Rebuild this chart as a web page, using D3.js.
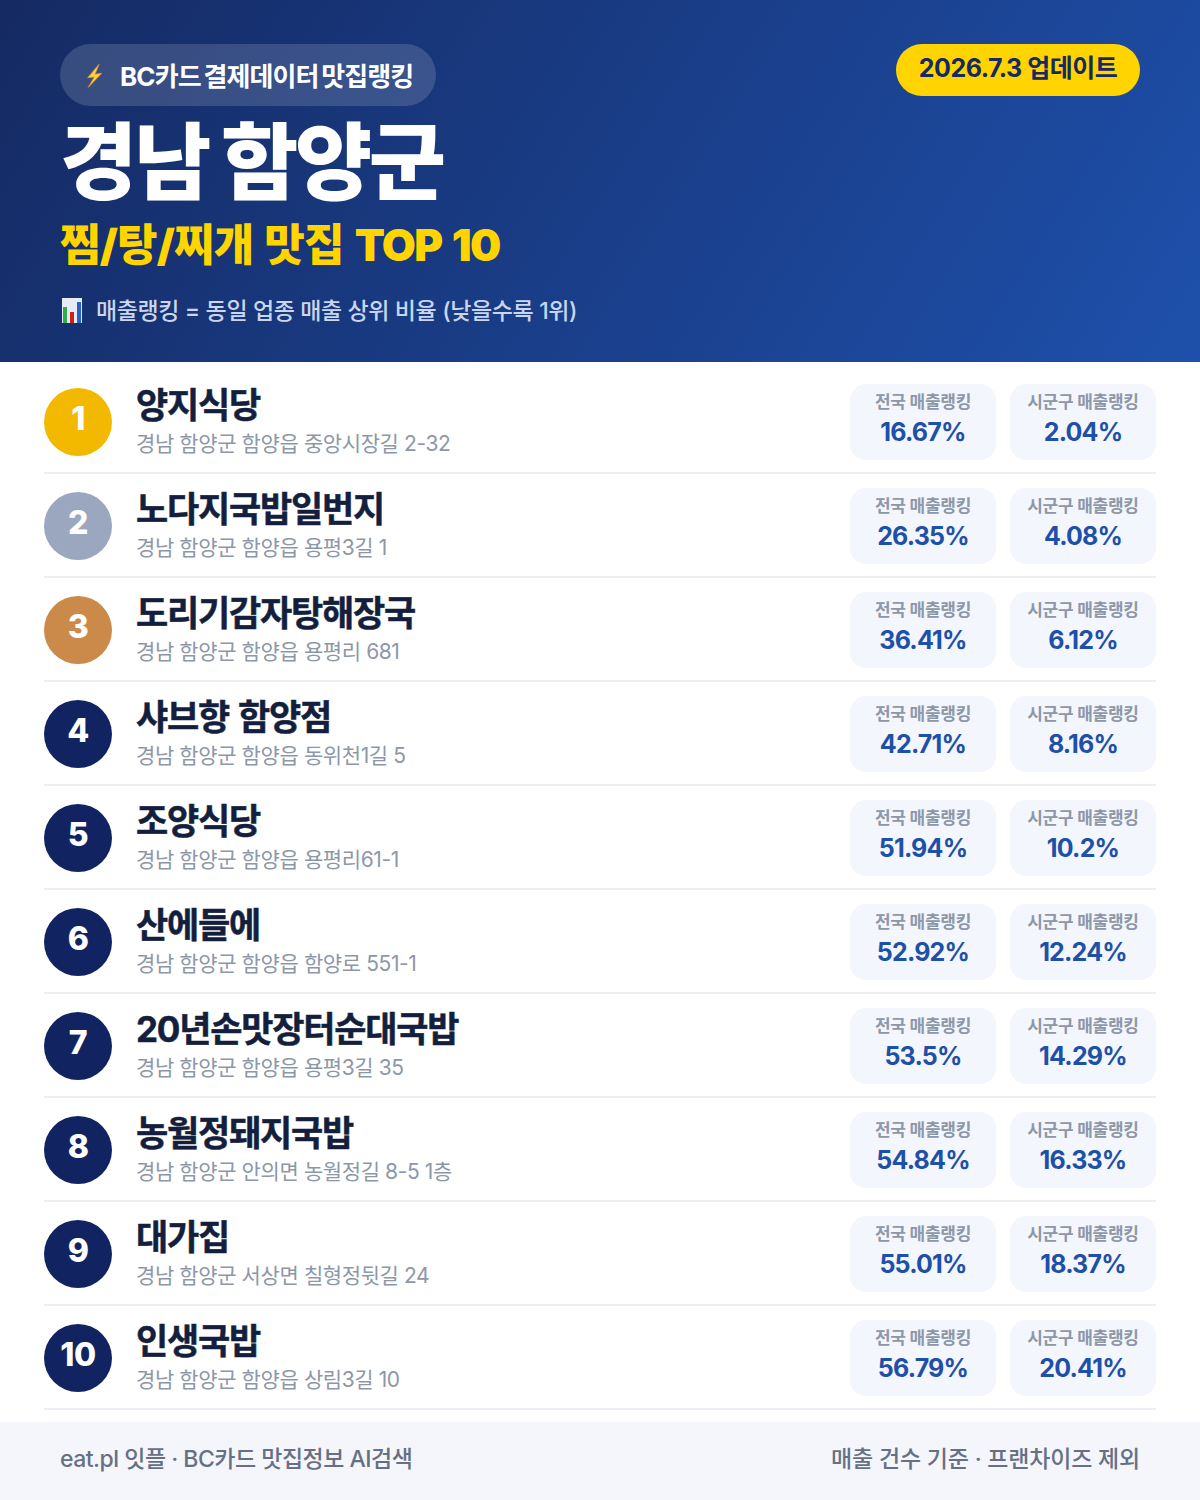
<!DOCTYPE html>
<html lang="ko">
<head>
<meta charset="utf-8">
<script src="https://cdn.jsdelivr.net/npm/d3@7"></script>
<style>
  html, body { margin: 0; padding: 0; background: #fff; }
  svg { display: block; }
  text { font-family: Inter, "Noto Sans CJK KR", sans-serif; }
</style>
</head>
<body>
<div id="chart"></div>
<script>
  'use strict';

  var ranks = ['1', '2', '3', '4', '5', '6', '7', '8', '9', '10'];
  var names = ['양지식당', '노다지국밥일번지', '도리기감자탕해장국', '샤브향 함양점', '조양식당',
    '산에들에', '20년손맛장터순대국밥', '농월정돼지국밥', '대가집', '인생국밥'];
  var addresses = ['경남 함양군 함양읍 중앙시장길 2-32', '경남 함양군 함양읍 용평3길 1',
    '경남 함양군 함양읍 용평리 681', '경남 함양군 함양읍 동위천1길 5', '경남 함양군 함양읍 용평리61-1',
    '경남 함양군 함양읍 함양로 551-1', '경남 함양군 함양읍 용평3길 35', '경남 함양군 안의면 농월정길 8-5 1층',
    '경남 함양군 서상면 칠형정뒷길 24', '경남 함양군 함양읍 상림3길 10'];
  var nationalRank = [16.67, 26.35, 36.41, 42.71, 51.94, 52.92, 53.5, 54.84, 55.01, 56.79];
  var districtRank = [2.04, 4.08, 6.12, 8.16, 10.2, 12.24, 14.29, 16.33, 18.37, 20.41];

  var W = 1200, H = 1500;
  var svg = d3.select('#chart').append('svg').attr('width', W).attr('height', H);

  // header gradient
  var grad = svg.append('defs').append('linearGradient')
      .attr('id', 'head')
      .attr('gradientUnits', 'userSpaceOnUse')
      .attr('x1', 90).attr('y1', -140).attr('x2', 1110).attr('y2', 502);
  grad.append('stop').attr('offset', 0).attr('stop-color', '#152a63');
  grad.append('stop').attr('offset', 1).attr('stop-color', '#1e50ab');

  svg.append('rect').attr('width', W).attr('height', 362).attr('fill', 'url(#head)');

  function label(sel, x, y, str, size, weight, fill, anchor, spacing) {
    return sel.append('text')
        .attr('x', x).attr('y', y)
        .attr('font-size', size)
        .attr('font-weight', weight)
        .attr('fill', fill)
        .attr('text-anchor', anchor || 'start')
        .attr('letter-spacing', spacing || 0)
        .text(str);
  }

  // header badge
  svg.append('rect').attr('x', 60).attr('y', 44).attr('width', 376).attr('height', 62)
      .attr('rx', 31).attr('fill', 'rgba(255,255,255,0.15)');
  svg.append('path')
      .attr('d', 'M99 64.3 L87.7 77.7 L94.3 77 L88.3 87.3 L101.7 73.3 L95 74.3 Z')
      .attr('fill', '#ffd23f').attr('stroke', '#e8962a').attr('stroke-width', 0.8);
  label(svg, 120, 86, 'BC카드 결제데이터 맛집랭킹', 26, 700, '#fff', 'start', -0.9)
      .attr('word-spacing', -2.5);

  // update badge
  svg.append('rect').attr('x', 896).attr('y', 44).attr('width', 244).attr('height', 52)
      .attr('rx', 26).attr('fill', '#ffd400');
  label(svg, 1018, 77, '2026.7.3 업데이트', 25, 700, '#152a63', 'middle', -0.5);

  label(svg, 60, 193, '경남 함양군', 84, 900, '#fff', 'start', -3.4);

  // latin part of the subtitle runs tighter than the hangul
  var subtitle = label(svg, 60, 261, '찜/탕/찌개 맛집 ', 44, 900, '#ffd400', 'start', -0.8)
      .attr('word-spacing', 3);
  subtitle.append('tspan').attr('letter-spacing', -1.6).text('TOP 10');

  // little bar chart icon
  var icon = svg.append('g');
  icon.append('rect').attr('x', 62).attr('y', 298).attr('width', 20).attr('height', 25).attr('fill', '#e6ecf4');
  icon.append('rect').attr('x', 63).attr('y', 307).attr('width', 4).attr('height', 16).attr('fill', '#2fae4a');
  icon.append('rect').attr('x', 70).attr('y', 312).attr('width', 4).attr('height', 11).attr('fill', '#d01f1f');
  icon.append('rect').attr('x', 77).attr('y', 302).attr('width', 4).attr('height', 21).attr('fill', '#2a62c4');
  label(svg, 96, 319, '매출랭킹 = 동일 업종 매출 상위 비율 (낮을수록 1위)', 23, 500, '#c9d6ee', 'start', -0.38);

  // rows
  var rowY = d3.scaleBand().domain(ranks).range([370, 1410]);
  var medal = d3.scaleOrdinal().domain(['1', '2', '3']).range(['#f2b900', '#9aa7bf', '#cb8a4a']).unknown('#112461');
  var fmt = function (v) { return v + '%'; };

  var row = svg.append('g').selectAll('g').data(ranks).join('g')
      .attr('transform', function (d) { return 'translate(0,' + rowY(d) + ')'; });

  row.append('line')
      .attr('x1', 44).attr('x2', 1156).attr('y1', 103).attr('y2', 103)
      .attr('stroke', '#eceef1').attr('stroke-width', 2);

  row.append('circle').attr('cx', 78).attr('cy', 52).attr('r', 34)
      .attr('fill', function (d) { return medal(d); });
  row.append('text')
      .attr('x', 78).attr('y', 60)
      .attr('text-anchor', 'middle')
      .attr('font-size', 32).attr('font-weight', 800).attr('fill', '#fff')
      .attr('letter-spacing', -0.5)
      .text(function (d) { return d; });

  row.append('text')
      .attr('x', 136).attr('y', 48)
      .attr('font-size', 35).attr('font-weight', 700).attr('fill', '#141f3d')
      .attr('stroke', '#141f3d').attr('stroke-width', 0.5)
      .attr('letter-spacing', -1.2)
      .attr('word-spacing', 2)
      .text(function (d, i) { return names[i]; });
  row.append('text')
      .attr('x', 136).attr('y', 81)
      .attr('font-size', 21).attr('font-weight', 400).attr('fill', '#8d97a8')
      .attr('letter-spacing', -0.4)
      .text(function (d, i) { return addresses[i]; });

  function cards(x, title, values) {
    var cx = x + 73;
    row.append('rect').attr('x', x).attr('y', 14).attr('width', 146).attr('height', 76)
        .attr('rx', 16).attr('fill', '#f3f6fd');
    row.append('text')
        .attr('x', cx).attr('y', 37.5).attr('text-anchor', 'middle')
        .attr('font-size', 17).attr('font-weight', 700).attr('fill', '#8d97a8')
        .attr('letter-spacing', -0.25)
        .text(title);
    row.append('text')
        .attr('x', cx).attr('y', 71).attr('text-anchor', 'middle')
        .attr('font-size', 25).attr('font-weight', 700).attr('fill', '#1f50a8')
        .attr('letter-spacing', -0.8)
        .text(function (d, i) { return fmt(values[i]); });
  }
  cards(850, '전국 매출랭킹', nationalRank);
  cards(1010, '시군구 매출랭킹', districtRank);

  // footer
  svg.append('rect').attr('x', 0).attr('y', 1422).attr('width', W).attr('height', 78).attr('fill', '#f4f6fb');
  label(svg, 60, 1467, 'eat.pl 잇플 · BC카드 맛집정보 AI검색', 23, 500, '#667085', 'start', -0.5);
  label(svg, 1140, 1467, '매출 건수 기준 · 프랜차이즈 제외', 23, 500, '#667085', 'end', -0.2);
</script>
</body>
</html>
